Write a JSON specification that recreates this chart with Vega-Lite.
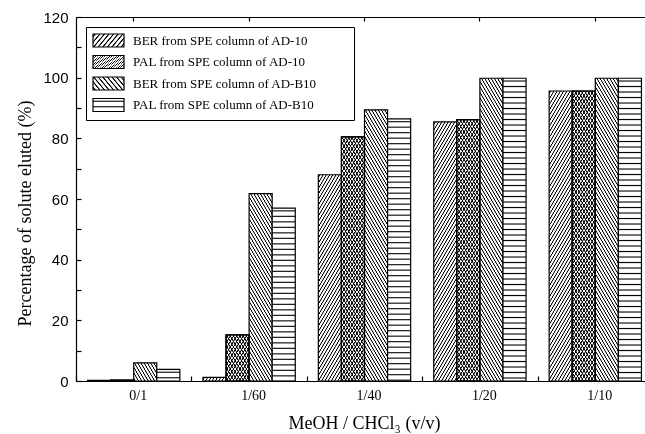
{
  "$schema": "https://vega.github.io/schema/vega-lite/v6.json",
  "autosize": "none",
  "width": 569,
  "height": 364,
  "padding": {"left": 76, "top": 17, "right": 0, "bottom": 53},
  "background": "white",
  "config": {"view": {"stroke": null}},
  "params": [
    {"name": "stripes", "value": [
{"offset":0.00375,"color":"#fff"},{"offset":0.00625,"color":"#000"},{"offset":0.00875,"color":"#fff"},{"offset":0.01625,"color":"#fff"},{"offset":0.01875,"color":"#000"},{"offset":0.02125,"color":"#fff"},{"offset":0.02875,"color":"#fff"},{"offset":0.03125,"color":"#000"},{"offset":0.03375,"color":"#fff"},{"offset":0.04125,"color":"#fff"},{"offset":0.04375,"color":"#000"},{"offset":0.04625,"color":"#fff"},{"offset":0.05375,"color":"#fff"},{"offset":0.05625,"color":"#000"},{"offset":0.05875,"color":"#fff"},{"offset":0.06625,"color":"#fff"},{"offset":0.06875,"color":"#000"},{"offset":0.07125,"color":"#fff"},{"offset":0.07875,"color":"#fff"},{"offset":0.08125,"color":"#000"},{"offset":0.08375,"color":"#fff"},{"offset":0.09125,"color":"#fff"},{"offset":0.09375,"color":"#000"},{"offset":0.09625,"color":"#fff"},
{"offset":0.10375,"color":"#fff"},{"offset":0.10625,"color":"#000"},{"offset":0.10875,"color":"#fff"},{"offset":0.11625,"color":"#fff"},{"offset":0.11875,"color":"#000"},{"offset":0.12125,"color":"#fff"},{"offset":0.12875,"color":"#fff"},{"offset":0.13125,"color":"#000"},{"offset":0.13375,"color":"#fff"},{"offset":0.14125,"color":"#fff"},{"offset":0.14375,"color":"#000"},{"offset":0.14625,"color":"#fff"},{"offset":0.15375,"color":"#fff"},{"offset":0.15625,"color":"#000"},{"offset":0.15875,"color":"#fff"},{"offset":0.16625,"color":"#fff"},{"offset":0.16875,"color":"#000"},{"offset":0.17125,"color":"#fff"},{"offset":0.17875,"color":"#fff"},{"offset":0.18125,"color":"#000"},{"offset":0.18375,"color":"#fff"},{"offset":0.19125,"color":"#fff"},{"offset":0.19375,"color":"#000"},{"offset":0.19625,"color":"#fff"},
{"offset":0.20375,"color":"#fff"},{"offset":0.20625,"color":"#000"},{"offset":0.20875,"color":"#fff"},{"offset":0.21625,"color":"#fff"},{"offset":0.21875,"color":"#000"},{"offset":0.22125,"color":"#fff"},{"offset":0.22875,"color":"#fff"},{"offset":0.23125,"color":"#000"},{"offset":0.23375,"color":"#fff"},{"offset":0.24125,"color":"#fff"},{"offset":0.24375,"color":"#000"},{"offset":0.24625,"color":"#fff"},{"offset":0.25375,"color":"#fff"},{"offset":0.25625,"color":"#000"},{"offset":0.25875,"color":"#fff"},{"offset":0.26625,"color":"#fff"},{"offset":0.26875,"color":"#000"},{"offset":0.27125,"color":"#fff"},{"offset":0.27875,"color":"#fff"},{"offset":0.28125,"color":"#000"},{"offset":0.28375,"color":"#fff"},{"offset":0.29125,"color":"#fff"},{"offset":0.29375,"color":"#000"},{"offset":0.29625,"color":"#fff"},
{"offset":0.30375,"color":"#fff"},{"offset":0.30625,"color":"#000"},{"offset":0.30875,"color":"#fff"},{"offset":0.31625,"color":"#fff"},{"offset":0.31875,"color":"#000"},{"offset":0.32125,"color":"#fff"},{"offset":0.32875,"color":"#fff"},{"offset":0.33125,"color":"#000"},{"offset":0.33375,"color":"#fff"},{"offset":0.34125,"color":"#fff"},{"offset":0.34375,"color":"#000"},{"offset":0.34625,"color":"#fff"},{"offset":0.35375,"color":"#fff"},{"offset":0.35625,"color":"#000"},{"offset":0.35875,"color":"#fff"},{"offset":0.36625,"color":"#fff"},{"offset":0.36875,"color":"#000"},{"offset":0.37125,"color":"#fff"},{"offset":0.37875,"color":"#fff"},{"offset":0.38125,"color":"#000"},{"offset":0.38375,"color":"#fff"},{"offset":0.39125,"color":"#fff"},{"offset":0.39375,"color":"#000"},{"offset":0.39625,"color":"#fff"},
{"offset":0.40375,"color":"#fff"},{"offset":0.40625,"color":"#000"},{"offset":0.40875,"color":"#fff"},{"offset":0.41625,"color":"#fff"},{"offset":0.41875,"color":"#000"},{"offset":0.42125,"color":"#fff"},{"offset":0.42875,"color":"#fff"},{"offset":0.43125,"color":"#000"},{"offset":0.43375,"color":"#fff"},{"offset":0.44125,"color":"#fff"},{"offset":0.44375,"color":"#000"},{"offset":0.44625,"color":"#fff"},{"offset":0.45375,"color":"#fff"},{"offset":0.45625,"color":"#000"},{"offset":0.45875,"color":"#fff"},{"offset":0.46625,"color":"#fff"},{"offset":0.46875,"color":"#000"},{"offset":0.47125,"color":"#fff"},{"offset":0.47875,"color":"#fff"},{"offset":0.48125,"color":"#000"},{"offset":0.48375,"color":"#fff"},{"offset":0.49125,"color":"#fff"},{"offset":0.49375,"color":"#000"},{"offset":0.49625,"color":"#fff"},
{"offset":0.50375,"color":"#fff"},{"offset":0.50625,"color":"#000"},{"offset":0.50875,"color":"#fff"},{"offset":0.51625,"color":"#fff"},{"offset":0.51875,"color":"#000"},{"offset":0.52125,"color":"#fff"},{"offset":0.52875,"color":"#fff"},{"offset":0.53125,"color":"#000"},{"offset":0.53375,"color":"#fff"},{"offset":0.54125,"color":"#fff"},{"offset":0.54375,"color":"#000"},{"offset":0.54625,"color":"#fff"},{"offset":0.55375,"color":"#fff"},{"offset":0.55625,"color":"#000"},{"offset":0.55875,"color":"#fff"},{"offset":0.56625,"color":"#fff"},{"offset":0.56875,"color":"#000"},{"offset":0.57125,"color":"#fff"},{"offset":0.57875,"color":"#fff"},{"offset":0.58125,"color":"#000"},{"offset":0.58375,"color":"#fff"},{"offset":0.59125,"color":"#fff"},{"offset":0.59375,"color":"#000"},{"offset":0.59625,"color":"#fff"},
{"offset":0.60375,"color":"#fff"},{"offset":0.60625,"color":"#000"},{"offset":0.60875,"color":"#fff"},{"offset":0.61625,"color":"#fff"},{"offset":0.61875,"color":"#000"},{"offset":0.62125,"color":"#fff"},{"offset":0.62875,"color":"#fff"},{"offset":0.63125,"color":"#000"},{"offset":0.63375,"color":"#fff"},{"offset":0.64125,"color":"#fff"},{"offset":0.64375,"color":"#000"},{"offset":0.64625,"color":"#fff"},{"offset":0.65375,"color":"#fff"},{"offset":0.65625,"color":"#000"},{"offset":0.65875,"color":"#fff"},{"offset":0.66625,"color":"#fff"},{"offset":0.66875,"color":"#000"},{"offset":0.67125,"color":"#fff"},{"offset":0.67875,"color":"#fff"},{"offset":0.68125,"color":"#000"},{"offset":0.68375,"color":"#fff"},{"offset":0.69125,"color":"#fff"},{"offset":0.69375,"color":"#000"},{"offset":0.69625,"color":"#fff"},
{"offset":0.70375,"color":"#fff"},{"offset":0.70625,"color":"#000"},{"offset":0.70875,"color":"#fff"},{"offset":0.71625,"color":"#fff"},{"offset":0.71875,"color":"#000"},{"offset":0.72125,"color":"#fff"},{"offset":0.72875,"color":"#fff"},{"offset":0.73125,"color":"#000"},{"offset":0.73375,"color":"#fff"},{"offset":0.74125,"color":"#fff"},{"offset":0.74375,"color":"#000"},{"offset":0.74625,"color":"#fff"},{"offset":0.75375,"color":"#fff"},{"offset":0.75625,"color":"#000"},{"offset":0.75875,"color":"#fff"},{"offset":0.76625,"color":"#fff"},{"offset":0.76875,"color":"#000"},{"offset":0.77125,"color":"#fff"},{"offset":0.77875,"color":"#fff"},{"offset":0.78125,"color":"#000"},{"offset":0.78375,"color":"#fff"},{"offset":0.79125,"color":"#fff"},{"offset":0.79375,"color":"#000"},{"offset":0.79625,"color":"#fff"},
{"offset":0.80375,"color":"#fff"},{"offset":0.80625,"color":"#000"},{"offset":0.80875,"color":"#fff"},{"offset":0.81625,"color":"#fff"},{"offset":0.81875,"color":"#000"},{"offset":0.82125,"color":"#fff"},{"offset":0.82875,"color":"#fff"},{"offset":0.83125,"color":"#000"},{"offset":0.83375,"color":"#fff"},{"offset":0.84125,"color":"#fff"},{"offset":0.84375,"color":"#000"},{"offset":0.84625,"color":"#fff"},{"offset":0.85375,"color":"#fff"},{"offset":0.85625,"color":"#000"},{"offset":0.85875,"color":"#fff"},{"offset":0.86625,"color":"#fff"},{"offset":0.86875,"color":"#000"},{"offset":0.87125,"color":"#fff"},{"offset":0.87875,"color":"#fff"},{"offset":0.88125,"color":"#000"},{"offset":0.88375,"color":"#fff"},{"offset":0.89125,"color":"#fff"},{"offset":0.89375,"color":"#000"},{"offset":0.89625,"color":"#fff"},
{"offset":0.90375,"color":"#fff"},{"offset":0.90625,"color":"#000"},{"offset":0.90875,"color":"#fff"},{"offset":0.91625,"color":"#fff"},{"offset":0.91875,"color":"#000"},{"offset":0.92125,"color":"#fff"},{"offset":0.92875,"color":"#fff"},{"offset":0.93125,"color":"#000"},{"offset":0.93375,"color":"#fff"},{"offset":0.94125,"color":"#fff"},{"offset":0.94375,"color":"#000"},{"offset":0.94625,"color":"#fff"},{"offset":0.95375,"color":"#fff"},{"offset":0.95625,"color":"#000"},{"offset":0.95875,"color":"#fff"},{"offset":0.96625,"color":"#fff"},{"offset":0.96875,"color":"#000"},{"offset":0.97125,"color":"#fff"},{"offset":0.97875,"color":"#fff"},{"offset":0.98125,"color":"#000"},{"offset":0.98375,"color":"#fff"},{"offset":0.99125,"color":"#fff"},{"offset":0.99375,"color":"#000"},{"offset":0.99625,"color":"#fff"}
    ]},
    {"name": "stripesD", "value": [
{"offset":0.00325,"color":"#fff"},{"offset":0.00525,"color":"#000"},{"offset":0.00725,"color":"#000"},{"offset":0.00925,"color":"#fff"},{"offset":0.01575,"color":"#fff"},{"offset":0.01775,"color":"#000"},{"offset":0.01975,"color":"#000"},{"offset":0.02175,"color":"#fff"},{"offset":0.02825,"color":"#fff"},{"offset":0.03025,"color":"#000"},{"offset":0.03225,"color":"#000"},{"offset":0.03425,"color":"#fff"},{"offset":0.04075,"color":"#fff"},{"offset":0.04275,"color":"#000"},{"offset":0.04475,"color":"#000"},{"offset":0.04675,"color":"#fff"},{"offset":0.05325,"color":"#fff"},{"offset":0.05525,"color":"#000"},{"offset":0.05725,"color":"#000"},{"offset":0.05925,"color":"#fff"},{"offset":0.06575,"color":"#fff"},{"offset":0.06775,"color":"#000"},{"offset":0.06975,"color":"#000"},{"offset":0.07175,"color":"#fff"},{"offset":0.07825,"color":"#fff"},{"offset":0.08025,"color":"#000"},{"offset":0.08225,"color":"#000"},{"offset":0.08425,"color":"#fff"},{"offset":0.09075,"color":"#fff"},{"offset":0.09275,"color":"#000"},{"offset":0.09475,"color":"#000"},{"offset":0.09675,"color":"#fff"},
{"offset":0.10325,"color":"#fff"},{"offset":0.10525,"color":"#000"},{"offset":0.10725,"color":"#000"},{"offset":0.10925,"color":"#fff"},{"offset":0.11575,"color":"#fff"},{"offset":0.11775,"color":"#000"},{"offset":0.11975,"color":"#000"},{"offset":0.12175,"color":"#fff"},{"offset":0.12825,"color":"#fff"},{"offset":0.13025,"color":"#000"},{"offset":0.13225,"color":"#000"},{"offset":0.13425,"color":"#fff"},{"offset":0.14075,"color":"#fff"},{"offset":0.14275,"color":"#000"},{"offset":0.14475,"color":"#000"},{"offset":0.14675,"color":"#fff"},{"offset":0.15325,"color":"#fff"},{"offset":0.15525,"color":"#000"},{"offset":0.15725,"color":"#000"},{"offset":0.15925,"color":"#fff"},{"offset":0.16575,"color":"#fff"},{"offset":0.16775,"color":"#000"},{"offset":0.16975,"color":"#000"},{"offset":0.17175,"color":"#fff"},{"offset":0.17825,"color":"#fff"},{"offset":0.18025,"color":"#000"},{"offset":0.18225,"color":"#000"},{"offset":0.18425,"color":"#fff"},{"offset":0.19075,"color":"#fff"},{"offset":0.19275,"color":"#000"},{"offset":0.19475,"color":"#000"},{"offset":0.19675,"color":"#fff"},
{"offset":0.20325,"color":"#fff"},{"offset":0.20525,"color":"#000"},{"offset":0.20725,"color":"#000"},{"offset":0.20925,"color":"#fff"},{"offset":0.21575,"color":"#fff"},{"offset":0.21775,"color":"#000"},{"offset":0.21975,"color":"#000"},{"offset":0.22175,"color":"#fff"},{"offset":0.22825,"color":"#fff"},{"offset":0.23025,"color":"#000"},{"offset":0.23225,"color":"#000"},{"offset":0.23425,"color":"#fff"},{"offset":0.24075,"color":"#fff"},{"offset":0.24275,"color":"#000"},{"offset":0.24475,"color":"#000"},{"offset":0.24675,"color":"#fff"},{"offset":0.25325,"color":"#fff"},{"offset":0.25525,"color":"#000"},{"offset":0.25725,"color":"#000"},{"offset":0.25925,"color":"#fff"},{"offset":0.26575,"color":"#fff"},{"offset":0.26775,"color":"#000"},{"offset":0.26975,"color":"#000"},{"offset":0.27175,"color":"#fff"},{"offset":0.27825,"color":"#fff"},{"offset":0.28025,"color":"#000"},{"offset":0.28225,"color":"#000"},{"offset":0.28425,"color":"#fff"},{"offset":0.29075,"color":"#fff"},{"offset":0.29275,"color":"#000"},{"offset":0.29475,"color":"#000"},{"offset":0.29675,"color":"#fff"},
{"offset":0.30325,"color":"#fff"},{"offset":0.30525,"color":"#000"},{"offset":0.30725,"color":"#000"},{"offset":0.30925,"color":"#fff"},{"offset":0.31575,"color":"#fff"},{"offset":0.31775,"color":"#000"},{"offset":0.31975,"color":"#000"},{"offset":0.32175,"color":"#fff"},{"offset":0.32825,"color":"#fff"},{"offset":0.33025,"color":"#000"},{"offset":0.33225,"color":"#000"},{"offset":0.33425,"color":"#fff"},{"offset":0.34075,"color":"#fff"},{"offset":0.34275,"color":"#000"},{"offset":0.34475,"color":"#000"},{"offset":0.34675,"color":"#fff"},{"offset":0.35325,"color":"#fff"},{"offset":0.35525,"color":"#000"},{"offset":0.35725,"color":"#000"},{"offset":0.35925,"color":"#fff"},{"offset":0.36575,"color":"#fff"},{"offset":0.36775,"color":"#000"},{"offset":0.36975,"color":"#000"},{"offset":0.37175,"color":"#fff"},{"offset":0.37825,"color":"#fff"},{"offset":0.38025,"color":"#000"},{"offset":0.38225,"color":"#000"},{"offset":0.38425,"color":"#fff"},{"offset":0.39075,"color":"#fff"},{"offset":0.39275,"color":"#000"},{"offset":0.39475,"color":"#000"},{"offset":0.39675,"color":"#fff"},
{"offset":0.40325,"color":"#fff"},{"offset":0.40525,"color":"#000"},{"offset":0.40725,"color":"#000"},{"offset":0.40925,"color":"#fff"},{"offset":0.41575,"color":"#fff"},{"offset":0.41775,"color":"#000"},{"offset":0.41975,"color":"#000"},{"offset":0.42175,"color":"#fff"},{"offset":0.42825,"color":"#fff"},{"offset":0.43025,"color":"#000"},{"offset":0.43225,"color":"#000"},{"offset":0.43425,"color":"#fff"},{"offset":0.44075,"color":"#fff"},{"offset":0.44275,"color":"#000"},{"offset":0.44475,"color":"#000"},{"offset":0.44675,"color":"#fff"},{"offset":0.45325,"color":"#fff"},{"offset":0.45525,"color":"#000"},{"offset":0.45725,"color":"#000"},{"offset":0.45925,"color":"#fff"},{"offset":0.46575,"color":"#fff"},{"offset":0.46775,"color":"#000"},{"offset":0.46975,"color":"#000"},{"offset":0.47175,"color":"#fff"},{"offset":0.47825,"color":"#fff"},{"offset":0.48025,"color":"#000"},{"offset":0.48225,"color":"#000"},{"offset":0.48425,"color":"#fff"},{"offset":0.49075,"color":"#fff"},{"offset":0.49275,"color":"#000"},{"offset":0.49475,"color":"#000"},{"offset":0.49675,"color":"#fff"},
{"offset":0.50325,"color":"#fff"},{"offset":0.50525,"color":"#000"},{"offset":0.50725,"color":"#000"},{"offset":0.50925,"color":"#fff"},{"offset":0.51575,"color":"#fff"},{"offset":0.51775,"color":"#000"},{"offset":0.51975,"color":"#000"},{"offset":0.52175,"color":"#fff"},{"offset":0.52825,"color":"#fff"},{"offset":0.53025,"color":"#000"},{"offset":0.53225,"color":"#000"},{"offset":0.53425,"color":"#fff"},{"offset":0.54075,"color":"#fff"},{"offset":0.54275,"color":"#000"},{"offset":0.54475,"color":"#000"},{"offset":0.54675,"color":"#fff"},{"offset":0.55325,"color":"#fff"},{"offset":0.55525,"color":"#000"},{"offset":0.55725,"color":"#000"},{"offset":0.55925,"color":"#fff"},{"offset":0.56575,"color":"#fff"},{"offset":0.56775,"color":"#000"},{"offset":0.56975,"color":"#000"},{"offset":0.57175,"color":"#fff"},{"offset":0.57825,"color":"#fff"},{"offset":0.58025,"color":"#000"},{"offset":0.58225,"color":"#000"},{"offset":0.58425,"color":"#fff"},{"offset":0.59075,"color":"#fff"},{"offset":0.59275,"color":"#000"},{"offset":0.59475,"color":"#000"},{"offset":0.59675,"color":"#fff"},
{"offset":0.60325,"color":"#fff"},{"offset":0.60525,"color":"#000"},{"offset":0.60725,"color":"#000"},{"offset":0.60925,"color":"#fff"},{"offset":0.61575,"color":"#fff"},{"offset":0.61775,"color":"#000"},{"offset":0.61975,"color":"#000"},{"offset":0.62175,"color":"#fff"},{"offset":0.62825,"color":"#fff"},{"offset":0.63025,"color":"#000"},{"offset":0.63225,"color":"#000"},{"offset":0.63425,"color":"#fff"},{"offset":0.64075,"color":"#fff"},{"offset":0.64275,"color":"#000"},{"offset":0.64475,"color":"#000"},{"offset":0.64675,"color":"#fff"},{"offset":0.65325,"color":"#fff"},{"offset":0.65525,"color":"#000"},{"offset":0.65725,"color":"#000"},{"offset":0.65925,"color":"#fff"},{"offset":0.66575,"color":"#fff"},{"offset":0.66775,"color":"#000"},{"offset":0.66975,"color":"#000"},{"offset":0.67175,"color":"#fff"},{"offset":0.67825,"color":"#fff"},{"offset":0.68025,"color":"#000"},{"offset":0.68225,"color":"#000"},{"offset":0.68425,"color":"#fff"},{"offset":0.69075,"color":"#fff"},{"offset":0.69275,"color":"#000"},{"offset":0.69475,"color":"#000"},{"offset":0.69675,"color":"#fff"},
{"offset":0.70325,"color":"#fff"},{"offset":0.70525,"color":"#000"},{"offset":0.70725,"color":"#000"},{"offset":0.70925,"color":"#fff"},{"offset":0.71575,"color":"#fff"},{"offset":0.71775,"color":"#000"},{"offset":0.71975,"color":"#000"},{"offset":0.72175,"color":"#fff"},{"offset":0.72825,"color":"#fff"},{"offset":0.73025,"color":"#000"},{"offset":0.73225,"color":"#000"},{"offset":0.73425,"color":"#fff"},{"offset":0.74075,"color":"#fff"},{"offset":0.74275,"color":"#000"},{"offset":0.74475,"color":"#000"},{"offset":0.74675,"color":"#fff"},{"offset":0.75325,"color":"#fff"},{"offset":0.75525,"color":"#000"},{"offset":0.75725,"color":"#000"},{"offset":0.75925,"color":"#fff"},{"offset":0.76575,"color":"#fff"},{"offset":0.76775,"color":"#000"},{"offset":0.76975,"color":"#000"},{"offset":0.77175,"color":"#fff"},{"offset":0.77825,"color":"#fff"},{"offset":0.78025,"color":"#000"},{"offset":0.78225,"color":"#000"},{"offset":0.78425,"color":"#fff"},{"offset":0.79075,"color":"#fff"},{"offset":0.79275,"color":"#000"},{"offset":0.79475,"color":"#000"},{"offset":0.79675,"color":"#fff"},
{"offset":0.80325,"color":"#fff"},{"offset":0.80525,"color":"#000"},{"offset":0.80725,"color":"#000"},{"offset":0.80925,"color":"#fff"},{"offset":0.81575,"color":"#fff"},{"offset":0.81775,"color":"#000"},{"offset":0.81975,"color":"#000"},{"offset":0.82175,"color":"#fff"},{"offset":0.82825,"color":"#fff"},{"offset":0.83025,"color":"#000"},{"offset":0.83225,"color":"#000"},{"offset":0.83425,"color":"#fff"},{"offset":0.84075,"color":"#fff"},{"offset":0.84275,"color":"#000"},{"offset":0.84475,"color":"#000"},{"offset":0.84675,"color":"#fff"},{"offset":0.85325,"color":"#fff"},{"offset":0.85525,"color":"#000"},{"offset":0.85725,"color":"#000"},{"offset":0.85925,"color":"#fff"},{"offset":0.86575,"color":"#fff"},{"offset":0.86775,"color":"#000"},{"offset":0.86975,"color":"#000"},{"offset":0.87175,"color":"#fff"},{"offset":0.87825,"color":"#fff"},{"offset":0.88025,"color":"#000"},{"offset":0.88225,"color":"#000"},{"offset":0.88425,"color":"#fff"},{"offset":0.89075,"color":"#fff"},{"offset":0.89275,"color":"#000"},{"offset":0.89475,"color":"#000"},{"offset":0.89675,"color":"#fff"},
{"offset":0.90325,"color":"#fff"},{"offset":0.90525,"color":"#000"},{"offset":0.90725,"color":"#000"},{"offset":0.90925,"color":"#fff"},{"offset":0.91575,"color":"#fff"},{"offset":0.91775,"color":"#000"},{"offset":0.91975,"color":"#000"},{"offset":0.92175,"color":"#fff"},{"offset":0.92825,"color":"#fff"},{"offset":0.93025,"color":"#000"},{"offset":0.93225,"color":"#000"},{"offset":0.93425,"color":"#fff"},{"offset":0.94075,"color":"#fff"},{"offset":0.94275,"color":"#000"},{"offset":0.94475,"color":"#000"},{"offset":0.94675,"color":"#fff"},{"offset":0.95325,"color":"#fff"},{"offset":0.95525,"color":"#000"},{"offset":0.95725,"color":"#000"},{"offset":0.95925,"color":"#fff"},{"offset":0.96575,"color":"#fff"},{"offset":0.96775,"color":"#000"},{"offset":0.96975,"color":"#000"},{"offset":0.97175,"color":"#fff"},{"offset":0.97825,"color":"#fff"},{"offset":0.98025,"color":"#000"},{"offset":0.98225,"color":"#000"},{"offset":0.98425,"color":"#fff"},{"offset":0.99075,"color":"#fff"},{"offset":0.99275,"color":"#000"},{"offset":0.99475,"color":"#000"},{"offset":0.99675,"color":"#fff"}
    ]}
  ],
  "data": {"values": [
    {"group": "0/1", "series": "BER from SPE column of AD-10", "value": 0.2},
    {"group": "0/1", "series": "PAL from SPE column of AD-10", "value": 0.3},
    {"group": "0/1", "series": "BER from SPE column of AD-B10", "value": 6.0},
    {"group": "0/1", "series": "PAL from SPE column of AD-B10", "value": 3.8},
    {"group": "1/60", "series": "BER from SPE column of AD-10", "value": 1.2},
    {"group": "1/60", "series": "PAL from SPE column of AD-10", "value": 15.2},
    {"group": "1/60", "series": "BER from SPE column of AD-B10", "value": 61.8},
    {"group": "1/60", "series": "PAL from SPE column of AD-B10", "value": 57.0},
    {"group": "1/40", "series": "BER from SPE column of AD-10", "value": 68.0},
    {"group": "1/40", "series": "PAL from SPE column of AD-10", "value": 80.5},
    {"group": "1/40", "series": "BER from SPE column of AD-B10", "value": 89.4},
    {"group": "1/40", "series": "PAL from SPE column of AD-B10", "value": 86.4},
    {"group": "1/20", "series": "BER from SPE column of AD-10", "value": 85.4},
    {"group": "1/20", "series": "PAL from SPE column of AD-10", "value": 86.2},
    {"group": "1/20", "series": "BER from SPE column of AD-B10", "value": 99.8},
    {"group": "1/20", "series": "PAL from SPE column of AD-B10", "value": 99.8},
    {"group": "1/10", "series": "BER from SPE column of AD-10", "value": 95.6},
    {"group": "1/10", "series": "PAL from SPE column of AD-10", "value": 95.6},
    {"group": "1/10", "series": "BER from SPE column of AD-B10", "value": 99.8},
    {"group": "1/10", "series": "PAL from SPE column of AD-B10", "value": 99.8}
  ]},
  "layer": [
    {
      "mark": {
        "type": "bar",
        "strokeWidth": 1.2,
        "fill": {"expr": "isString(datum.value) ? (datum.value === 'PAL from SPE column of AD-B10' ? {gradient:'linear',x1:0,y1:0,x2:0,y2:33.85,stops:stripes} : datum.value === 'BER from SPE column of AD-B10' ? {gradient:'linear',x1:0,y1:1,x2:10.541,y2:-2.6836,stops:stripesD} : datum.value === 'PAL from SPE column of AD-10' ? {gradient:'linear',x1:0,y1:0,x2:5.27,y2:1.8418,stops:stripesD} : {gradient:'linear',x1:0,y1:0,x2:10.541,y2:3.6836,stops:stripesD}) : (datum.series === 'PAL from SPE column of AD-B10' ? {gradient:'linear',x1:0,y1:0,x2:0,y2:440/max(1,scale('y',0)-scale('y',datum.value)),stops:stripes} : datum.series === 'BER from SPE column of AD-B10' ? {gradient:'linear',x1:0,y1:1,x2:748*bandwidth('xOffset')/(2.89*bandwidth('xOffset')*bandwidth('xOffset')+pow(max(1,scale('y',0)-scale('y',datum.value)),2)),y2:1-440*max(1,scale('y',0)-scale('y',datum.value))/(2.89*bandwidth('xOffset')*bandwidth('xOffset')+pow(max(1,scale('y',0)-scale('y',datum.value)),2)),stops:stripesD} : {gradient:'linear',x1:0,y1:0,x2:748*bandwidth('xOffset')/(2.89*bandwidth('xOffset')*bandwidth('xOffset')+pow(max(1,scale('y',0)-scale('y',datum.value)),2)),y2:440*max(1,scale('y',0)-scale('y',datum.value))/(2.89*bandwidth('xOffset')*bandwidth('xOffset')+pow(max(1,scale('y',0)-scale('y',datum.value)),2)),stops:stripesD})"}
      },
      "encoding": {
        "x": {
          "field": "group", "type": "nominal",
          "scale": {"domain": ["0/1", "1/60", "1/40", "1/20", "1/10"], "range": [0, 577], "paddingInner": 0, "paddingOuter": 0},
          "axis": {
            "orient": "bottom", "title": "MeOH / CHCl₃ (v/v)",
            "tickBand": "extent", "tickSize": -5, "tickColor": "#000", "tickWidth": 1.2,
            "domainColor": "#000", "domainWidth": 1.2,
            "labelAngle": 0, "labelFont": "Liberation Serif", "labelFontSize": 14, "labelColor": "#000",
            "labelPadding": 12, "labelOffset": 4,
            "titleFont": "Liberation Serif", "titleFontSize": 18, "titleFontWeight": "normal", "titleColor": "#000",
            "titleX": 288, "titleY": 47, "titleBaseline": "alphabetic"
          }
        },
        "xOffset": {
          "field": "series", "type": "nominal",
          "scale": {"domain": ["BER from SPE column of AD-10", "PAL from SPE column of AD-10", "BER from SPE column of AD-B10", "PAL from SPE column of AD-B10"], "paddingInner": 0, "paddingOuter": 0.5}
        },
        "y": {
          "field": "value", "type": "quantitative",
          "scale": {"domain": [0, 120], "nice": false},
          "axis": {
            "title": "Percentage of solute eluted (%)",
            "values": [0, 10, 20, 30, 40, 50, 60, 70, 80, 90, 100, 110, 120],
            "labelExpr": "datum.value % 20 === 0 ? datum.label : ''",
            "grid": false,
            "tickSize": -5, "tickColor": "#000", "tickWidth": 1.2,
            "domainColor": "#000", "domainWidth": 1.2,
            "labelFont": "Liberation Sans", "labelFontSize": 15, "labelColor": "#000", "labelPadding": 13,
            "titleFont": "Liberation Serif", "titleFontSize": 18, "titleFontWeight": "normal", "titleColor": "#000",
            "titleX": -51, "titleY": 196, "titleBaseline": "middle"
          }
        },
        "stroke": {
          "field": "series", "type": "nominal",
          "scale": {"domain": ["BER from SPE column of AD-10", "PAL from SPE column of AD-10", "BER from SPE column of AD-B10", "PAL from SPE column of AD-B10"], "range": ["#000", "#000", "#000", "#000"]},
          "legend": {
            "orient": "none", "legendX": 10, "legendY": 10,
            "title": "\u00a0", "titleOrient": "right", "titleFontSize": 1, "titlePadding": 31,
            "symbolType": "M-2.385,-1H2.385V1H-2.385Z", "symbolSize": 169, "symbolStrokeWidth": 1.2,
            "symbolOffset": 9, "labelOffset": 17,
            "labelFont": "Liberation Serif", "labelFontSize": 13, "labelColor": "#000", "labelLimit": 400,
            "padding": 6, "rowPadding": 2.5, "strokeColor": "#000", "fillColor": "#fff"
          }
        }
      }
    },
    {
      "transform": [{"filter": "datum.series === 'PAL from SPE column of AD-10'"}],
      "mark": {
        "type": "bar",
        "stroke": "#000",
        "strokeWidth": 1.2,
        "blend": "multiply",
        "fill": {"expr": "{gradient:'linear',x1:0,y1:1,x2:748*bandwidth('xOffset')/(2.89*bandwidth('xOffset')*bandwidth('xOffset')+pow(max(1,scale('y',0)-scale('y',datum.value)),2)),y2:1-440*max(1,scale('y',0)-scale('y',datum.value))/(2.89*bandwidth('xOffset')*bandwidth('xOffset')+pow(max(1,scale('y',0)-scale('y',datum.value)),2)),stops:stripesD}"}
      },
      "encoding": {
        "x": {
          "field": "group", "type": "nominal",
          "scale": {"domain": ["0/1", "1/60", "1/40", "1/20", "1/10"], "range": [0, 577], "paddingInner": 0, "paddingOuter": 0},
          "axis": {"orient": "top", "labels": false, "title": null, "tickSize": -4, "tickColor": "#000", "tickWidth": 1.2, "domainColor": "#000", "domainWidth": 1.2}
        },
        "xOffset": {
          "field": "series", "type": "nominal",
          "scale": {"domain": ["BER from SPE column of AD-10", "PAL from SPE column of AD-10", "BER from SPE column of AD-B10", "PAL from SPE column of AD-B10"], "paddingInner": 0, "paddingOuter": 0.5}
        },
        "y": {
          "field": "value", "type": "quantitative",
          "scale": {"domain": [0, 120], "nice": false},
          "axis": {
            "title": "Percentage of solute eluted (%)",
            "values": [0, 10, 20, 30, 40, 50, 60, 70, 80, 90, 100, 110, 120],
            "labelExpr": "datum.value % 20 === 0 ? datum.label : ''",
            "grid": false,
            "tickSize": -5, "tickColor": "#000", "tickWidth": 1.2,
            "domainColor": "#000", "domainWidth": 1.2,
            "labelFont": "Liberation Sans", "labelFontSize": 15, "labelColor": "#000", "labelPadding": 13,
            "titleFont": "Liberation Serif", "titleFontSize": 18, "titleFontWeight": "normal", "titleColor": "#000",
            "titleX": -51, "titleY": 196, "titleBaseline": "middle"
          }
        }
      }
    }
  ]
}
